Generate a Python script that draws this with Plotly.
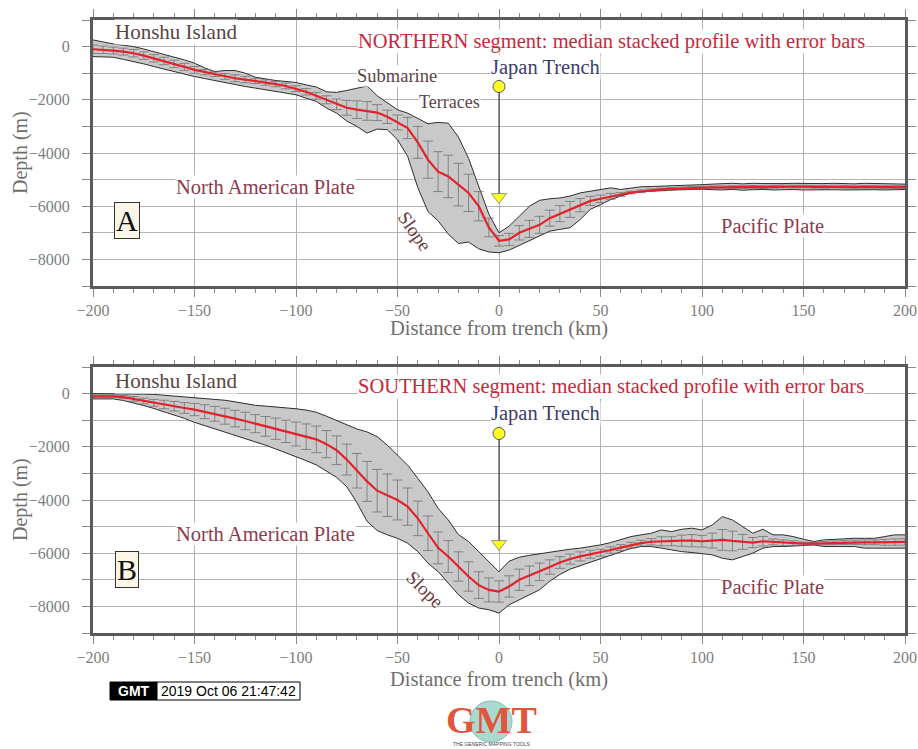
import plotly.graph_objects as go

# ---------------- data ----------------
DIST = list(range(-200, 205, 5))  # km from trench, 5 km sampling

MED_N = [-100, -120, -150, -190, -250, -340, -440, -540, -650, -760,
         -875, -960, -1040, -1120, -1190, -1240, -1290, -1350, -1410, -1480,
         -1580, -1700, -1850, -2000, -2170, -2300, -2370, -2420, -2480, -2640,
         -2850, -3060, -3600, -4250, -4700, -4880, -5190, -5500, -6000, -6800,
         -7300, -7250, -7000, -6850, -6700, -6450, -6280, -6120, -5960, -5800,
         -5720, -5630, -5560, -5490, -5440, -5400, -5370, -5350, -5330, -5310,
         -5300, -5290, -5290, -5280, -5280, -5270, -5280, -5270, -5260, -5260,
         -5260, -5270, -5270, -5260, -5270, -5280, -5270, -5270, -5280, -5280,
         -5280]
UP_N = [250, 170, 100, 50, 0, -90, -190, -280, -375, -500,
        -625, -800, -940, -900, -900, -1000, -1150, -1220, -1275, -1310,
        -1350, -1440, -1520, -1700, -1720, -1650, -1560, -1480, -1850, -2125,
        -2375, -2500, -2700, -2900, -2850, -2880, -3400, -4200, -5250, -6300,
        -7000, -6750, -6375, -6000, -5780, -5720, -5690, -5620, -5500, -5440,
        -5370, -5310, -5370, -5310, -5270, -5260, -5250, -5230, -5220, -5200,
        -5190, -5170, -5150, -5140, -5160, -5140, -5150, -5160, -5150, -5140,
        -5150, -5160, -5150, -5140, -5150, -5160, -5140, -5150, -5160, -5150,
        -5170]
LO_N = [-375, -390, -400, -480, -560, -650, -750, -850, -940, -1030,
        -1125, -1200, -1275, -1360, -1440, -1500, -1560, -1620, -1690, -1750,
        -1810, -1940, -2060, -2310, -2500, -2800, -3000, -3250, -3100, -3125,
        -3500, -4125, -5300, -6200, -6550, -7050, -7400, -7350, -7600, -7720,
        -7750, -7650, -7470, -7310, -7100, -6940, -6870, -6810, -6500, -6120,
        -5940, -5750, -5620, -5500, -5460, -5430, -5400, -5390, -5380, -5370,
        -5360, -5380, -5390, -5370, -5400, -5380, -5370, -5390, -5380, -5370,
        -5390, -5380, -5370, -5380, -5390, -5380, -5370, -5380, -5390, -5380,
        -5370]
ERR_N = [160, 140, 130, 130, 140, 140, 140, 140, 140, 130,
         130, 100, 90, 110, 130, 120, 100, 100, 100, 110,
         110, 120, 130, 150, 200, 280, 330, 350, 300, 250,
         280, 400, 600, 700, 750, 800, 800, 700, 550, 350,
         200, 230, 270, 320, 320, 300, 300, 300, 250, 170,
         140, 110, 70, 50, 50, 50, 50, 50, 50, 50,
         50, 50, 50, 50, 50, 50, 50, 50, 50, 50,
         50, 50, 50, 50, 50, 50, 50, 50, 50, 50,
         50]

MED_S = [-100, -100, -100, -130, -200, -280, -350, -410, -475, -540,
         -600, -680, -760, -850, -940, -1030, -1130, -1230, -1320, -1420,
         -1520, -1620, -1720, -1900, -2130, -2480, -2900, -3300, -3650, -3820,
         -4000, -4250, -4690, -5250, -5800, -6125, -6500, -6875, -7200, -7380,
         -7440, -7250, -7000, -6850, -6700, -6520, -6350, -6220, -6120, -6040,
         -5980, -5880, -5790, -5700, -5620, -5570, -5550, -5550, -5530, -5530,
         -5550, -5525, -5500, -5540, -5575, -5600, -5550, -5575, -5610, -5625,
         -5640, -5640, -5625, -5610, -5600, -5590, -5590, -5590, -5590, -5580,
         -5575]
UP_S = [0, 0, 0, 0, -10, -20, -30, -60, -90, -110,
        -150, -170, -200, -250, -310, -380, -440, -470, -500, -530,
        -570, -620, -700, -850, -1000, -1180, -1330, -1440, -1620, -1940,
        -2310, -2690, -3190, -3690, -4310, -4750, -5300, -5560, -5940, -6310,
        -6700, -6300, -6150, -6080, -6020, -5960, -5900, -5850, -5810, -5750,
        -5690, -5600, -5500, -5375, -5310, -5250, -5125, -5190, -5100, -5060,
        -5125, -4940, -4625, -4750, -5000, -5250, -5100, -5310, -5310, -5375,
        -5475, -5560, -5500, -5475, -5475, -5440, -5440, -5440, -5375, -5310,
        -5310]
LO_S = [-200, -200, -200, -260, -350, -450, -560, -680, -800, -930,
        -1080, -1200, -1320, -1440, -1560, -1690, -1810, -1940, -2080, -2220,
        -2380, -2520, -2680, -2900, -3150, -3500, -4100, -4800, -5150, -5310,
        -5440, -5625, -5940, -6375, -6690, -7125, -7560, -7875, -8060, -8125,
        -8250, -7940, -7750, -7560, -7375, -7050, -6800, -6600, -6470, -6350,
        -6220, -6080, -5950, -5820, -5750, -5750, -5810, -5875, -5940, -5975,
        -6025, -6060, -6190, -6250, -6125, -6000, -5810, -5750, -5750, -5725,
        -5725, -5690, -5750, -5750, -5775, -5750, -5810, -5810, -5810, -5810,
        -5810]
ERR_S = [50, 50, 50, 60, 90, 110, 130, 160, 180, 200,
         230, 260, 280, 300, 310, 330, 340, 370, 400, 420,
         450, 480, 500, 510, 540, 580, 650, 750, 800, 800,
         750, 700, 650, 650, 600, 600, 550, 550, 500, 450,
         400, 400, 400, 370, 330, 270, 220, 190, 170, 150,
         130, 120, 110, 110, 110, 120, 170, 170, 210, 230,
         220, 280, 390, 370, 280, 190, 180, 110, 110, 90,
         60, 40, 60, 70, 75, 80, 90, 90, 110, 120,
         120]

X_TICKS = [-200, -150, -100, -50, 0, 50, 100, 150, 200]
Y_TICKS = [0, -2000, -4000, -6000, -8000]

TRENCH_KM = 0
TRENCH_DOT_DEPTH = -1500
TRENCH_ARROW_DEPTH = -5650

SERIF = "Liberation Serif"
# figure fills the whole page (body margin removed in post_script)
OFF = 0
W, H = 918 - OFF, 749 - OFF


def px(x):
    return (x - OFF) / W


def py(y):
    return 1 - (y - OFF) / H


fig = go.Figure()


def add_panel(xa, ya, med, up, lo, err):
    fig.add_trace(go.Scatter(x=DIST, y=lo, xaxis=xa, yaxis=ya, mode="lines",
                             line=dict(color="#2e2e2e", width=1), showlegend=False,
                             hoverinfo="skip"))
    fig.add_trace(go.Scatter(x=DIST, y=up, xaxis=xa, yaxis=ya, mode="lines",
                             fill="tonexty", fillcolor="#c9c9c9",
                             line=dict(color="#2e2e2e", width=1), showlegend=False,
                             hoverinfo="skip"))
    fig.add_trace(go.Scatter(x=DIST, y=med, xaxis=xa, yaxis=ya, mode="markers",
                             marker=dict(size=2, color="rgba(0,0,0,0)"),
                             error_y=dict(type="data", array=err, color="#666666",
                                          thickness=0.7, width=5),
                             showlegend=False, hoverinfo="skip"))
    fig.add_trace(go.Scatter(x=DIST, y=med, xaxis=xa, yaxis=ya, mode="lines",
                             line=dict(color="#e3222b", width=2.2), showlegend=False))
    # trench marker: line, dot, arrow head
    fig.add_trace(go.Scatter(x=[TRENCH_KM, TRENCH_KM], y=[TRENCH_DOT_DEPTH, TRENCH_ARROW_DEPTH],
                             xaxis=xa, yaxis=ya, mode="lines",
                             line=dict(color="#222222", width=1), showlegend=False))
    fig.add_trace(go.Scatter(x=[TRENCH_KM], y=[TRENCH_DOT_DEPTH], xaxis=xa, yaxis=ya,
                             mode="markers", marker=dict(symbol="circle", size=12, color="#ffff22",
                                                         line=dict(color="#555555", width=1)),
                             showlegend=False))
    fig.add_trace(go.Scatter(x=[TRENCH_KM], y=[TRENCH_ARROW_DEPTH], xaxis=xa, yaxis=ya,
                             mode="markers", marker=dict(symbol="triangle-down", size=13,
                                                         color="#ffff22",
                                                         line=dict(color="#777777", width=0.8)),
                             showlegend=False))


add_panel("x", "y", MED_N, UP_N, LO_N, ERR_N)
add_panel("x2", "y2", MED_S, UP_S, LO_S, ERR_S)

xdom = [px(93), px(905)]
ydom_top = [py(286), py(20)]
ydom_bot = [py(633), py(367)]

tickfont = dict(family=SERIF, size=16, color="#7d7d7d")
common_x = dict(range=[-200, 200], tickvals=X_TICKS, showgrid=True, gridcolor="#b3b3b3",
                gridwidth=1, showline=True, mirror="ticks", linecolor="#5a5a5a",
                linewidth=3, ticks="outside", ticklen=8, tickcolor="#8a8a8a", tickwidth=1,
                minor=dict(dtick=10, tick0=-200, ticks="outside", ticklen=4,
                           tickcolor="#8a8a8a", showgrid=False),
                zeroline=False, tickfont=tickfont, fixedrange=True, automargin=False)
common_y = dict(range=[-9000, 1000], tickvals=Y_TICKS, showgrid=True, gridcolor="#b3b3b3",
                gridwidth=1, showline=True, mirror="ticks", linecolor="#5a5a5a",
                linewidth=3, ticks="outside", ticklen=8, tickcolor="#8a8a8a", tickwidth=1,
                ticklabelstandoff=9,
                minor=dict(dtick=1000, tick0=0, ticks="outside", ticklen=8,
                           tickcolor="#8a8a8a", showgrid=True, gridcolor="#b3b3b3"),
                zeroline=False, tickfont=tickfont, fixedrange=True, automargin=False)

fig.update_layout(
    width=W, height=H, margin=dict(l=0, r=0, t=0, b=0, pad=0, autoexpand=False),
    paper_bgcolor="white", plot_bgcolor="white", showlegend=False,
    xaxis=dict(domain=xdom, anchor="y", **common_x),
    yaxis=dict(domain=ydom_top, anchor="x", **common_y),
    xaxis2=dict(domain=xdom, anchor="y2", **common_x),
    yaxis2=dict(domain=ydom_bot, anchor="x2", **common_y),
)

BROWN = "#5b4444"
RED = "#c8283c"
NAVY = "#3d3d6b"
MAROON = "#8e3a4c"

ann = []


def txt(text, x, y, xr, yr, size, color, xanchor="center", angle=0, bg="white"):
    ann.append(dict(text=text, x=x, y=y, xref=xr, yref=yr, showarrow=False,
                    font=dict(family=SERIF, size=size, color=color),
                    xanchor=xanchor, yanchor="middle", textangle=angle,
                    bgcolor=bg, borderpad=0))


for xr, yr, seg, off in (("x", "y", "NORTHERN", 0), ("x2", "y2", "SOUTHERN", 1)):
    dy = -60 if off else 0
    txt("Honshu Island", -189.5, 550 + dy, xr, yr, 21, BROWN, "left")
    txt(seg + " segment: median stacked profile with error bars", -70, 176 + 100 * off,
        xr, yr, 20.5, RED, "left")
    txt("Japan Trench", 22.7, -800 + 60 * off, xr, yr, 20.5, NAVY)
    txt("North American Plate", -115, -5260, xr, yr, 20.5, MAROON)
    txt("Pacific Plate", 134.6, -6760 - 500 * off, xr, yr, 20.5, MAROON)

# NORTHERN extras
txt("Submarine", -50.3, -1100, "x", "y", 18.5, BROWN)
txt("Terraces", -24.2, -2075, "x", "y", 18, BROWN)
txt("Slope", -41.4, -6950, "x", "y", 19, "#6b3a3a", angle=55, bg="rgba(0,0,0,0)")
txt("Slope", -36.5, -7375, "x2", "y2", 19, "#6b3a3a", angle=45, bg="rgba(0,0,0,0)")

# Panel letters
for lab, xr, yr, yv in (("A", "x", "y", -6555), ("B", "x2", "y2", -6630)):
    ann.append(dict(text=lab, x=-183.2, y=yv, xref=xr, yref=yr, showarrow=False,
                    font=dict(family=SERIF, size=30, color="#111111"),
                    bgcolor="#fbf6e6", bordercolor="#333333", borderwidth=1, borderpad=1))

# axis titles
for yy in (329, 679):
    ann.append(dict(text="Distance from trench (km)", x=px(499), y=py(yy), xref="paper",
                    yref="paper", showarrow=False, xanchor="center", yanchor="middle",
                    font=dict(family=SERIF, size=20.5, color="#6e6e6e")))
for yy in (153, 500):
    ann.append(dict(text="Depth (m)", x=px(20), y=py(yy), xref="paper", yref="paper",
                    showarrow=False, textangle=-90, xanchor="center", yanchor="middle",
                    font=dict(family=SERIF, size=20, color="#6e6e6e")))

# GMT timestamp and logo
shapes = [
    dict(type="rect", xref="paper", yref="paper", x0=px(110), x1=px(157),
         y0=py(700), y1=py(682), fillcolor="black", line=dict(color="black", width=1),
         layer="below"),
    dict(type="rect", xref="paper", yref="paper", x0=px(157), x1=px(300),
         y0=py(700), y1=py(682), fillcolor="white", line=dict(color="black", width=1),
         layer="below"),
    dict(type="circle", xref="paper", yref="paper", x0=px(470), x1=px(512),
         y0=py(742), y1=py(701), fillcolor="#a9d9cf", line=dict(color="#7fbfb5", width=1),
         layer="below"),
]
ann.append(dict(text="<b>GMT</b>", x=px(133.5), y=py(691), xref="paper", yref="paper",
                showarrow=False, xanchor="center", yanchor="middle",
                font=dict(family="Liberation Sans", size=14, color="white")))
ann.append(dict(text="2019 Oct 06 21:47:42", x=px(228.5), y=py(691), xref="paper",
                yref="paper", showarrow=False, xanchor="center", yanchor="middle",
                font=dict(family="Liberation Sans", size=14, color="black")))
ann.append(dict(text="<b>GMT</b>", x=px(491), y=py(720), xref="paper", yref="paper",
                showarrow=False, xanchor="center", yanchor="middle",
                font=dict(family="Liberation Serif", size=38, color="#e0553b")))
ann.append(dict(text="THE GENERIC MAPPING TOOLS", x=px(491), y=py(744), xref="paper",
                yref="paper", showarrow=False, xanchor="center", yanchor="middle",
                font=dict(family="Liberation Sans", size=5, color="#444444")))

fig.update_layout(annotations=ann, shapes=shapes)

fig.write_html("out.html", config={"displayModeBar": False},
               post_script="document.body.style.margin='0px';"
                           "document.body.style.overflow='hidden';")
